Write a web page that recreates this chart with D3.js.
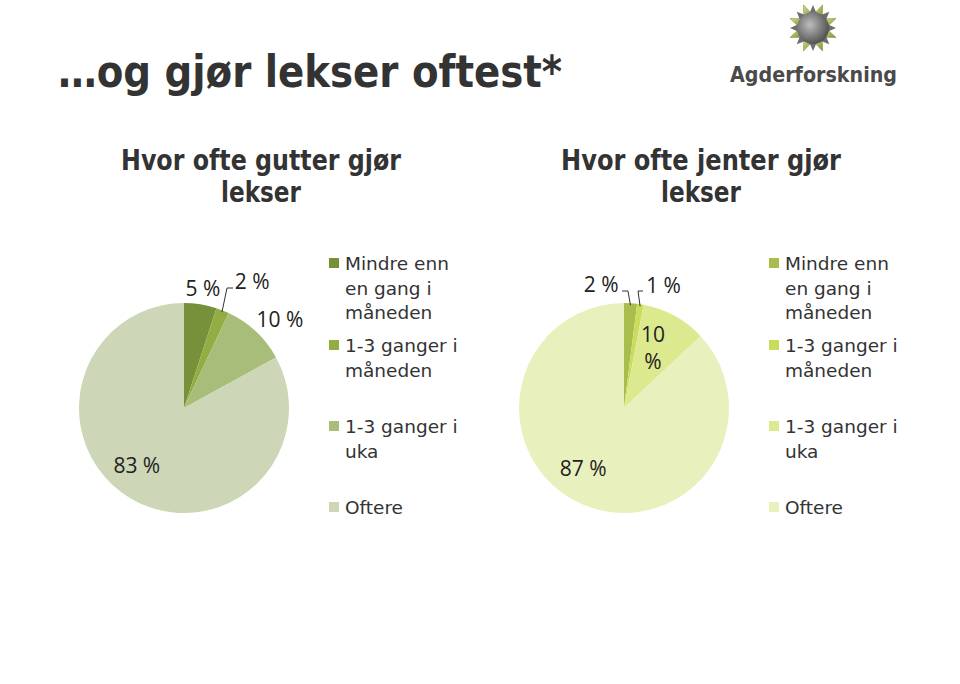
<!DOCTYPE html>
<html>
<head>
<meta charset="utf-8">
<script src="https://cdn.jsdelivr.net/npm/d3@7"></script>
<style>
  html, body { margin: 0; padding: 0; background: #fff; }
  svg { display: block; }
</style>
</head>
<body>
<script>
// ---- data ----
const categories = ["Mindre enn en gang i måneden", "1-3 ganger i måneden", "1-3 ganger i uka", "Oftere"];
const legendLines = [["Mindre enn", "en gang i", "måneden"], ["1-3 ganger i", "måneden"], ["1-3 ganger i", "uka"], ["Oftere"]];
const guttValues = [5, 2, 10, 83];
const jenteValues = [2, 1, 10, 87];
const guttColors = ["#77913b", "#93ad45", "#a9bd7a", "#cdd7b7"];
const jenteColors = ["#a8bd4c", "#c9dc5c", "#dde98f", "#e8f0bd"];
const mainTitle = "…og gjør lekser oftest*";
const guttTitle = ["Hvor ofte gutter gjør", "lekser"];
const jenteTitle = ["Hvor ofte jenter gjør", "lekser"];

const W = 960, H = 684;
const svg = d3.select("body").append("svg").attr("width", W).attr("height", H);

// main title
svg.append("text").attr("x", 58).attr("y", 87)
  .attr("font-family", "DejaVu Sans Condensed, DejaVu Sans").attr("font-weight", "bold")
  .attr("font-size", 45).attr("fill", "#333").attr("textLength", 504).attr("lengthAdjust", "spacingAndGlyphs")
  .text(mainTitle);

// logo
const logo = svg.append("g").attr("transform", "translate(813,28)");
const defs = svg.append("defs");
const rg = defs.append("radialGradient").attr("id", "lg").attr("cx", "40%").attr("cy", "40%").attr("r", "60%");
rg.append("stop").attr("offset", "0%").attr("stop-color", "#bdbdbd");
rg.append("stop").attr("offset", "100%").attr("stop-color", "#555");
const gg = defs.append("linearGradient").attr("id", "gg").attr("x1", "0").attr("y1", "0").attr("x2", "1").attr("y2", "1");
gg.append("stop").attr("offset", "0%").attr("stop-color", "#d2df8c");
gg.append("stop").attr("offset", "100%").attr("stop-color", "#7d9130");
const Rl = 25;
for (let k = 0; k < 8; k++) {
  const a0 = (k * 45 + 4) * Math.PI / 180, a1 = (k * 45 + 41) * Math.PI / 180, am = (a0 + a1) / 2;
  const p = [[Math.sin(a0) * 14, -Math.cos(a0) * 14], [Math.sin(am) * Rl, -Math.cos(am) * Rl], [Math.sin(a1) * 14, -Math.cos(a1) * 14]];
  logo.append("path").attr("d", d3.line()(p) + "Z").attr("fill", "url(#gg)").attr("stroke", "#6f8a2a").attr("stroke-width", 0.5);
}
for (let k = 0; k < 8; k++) {
  const a = k * 45 * Math.PI / 180, w = 0.3;
  const p = [[Math.sin(a - w) * 14, -Math.cos(a - w) * 14], [Math.sin(a) * (Rl - 2), -Math.cos(a) * (Rl - 2)], [Math.sin(a + w) * 14, -Math.cos(a + w) * 14]];
  logo.append("path").attr("d", d3.line()(p) + "Z").attr("fill", "#6e6e6e");
}
logo.append("circle").attr("r", 16).attr("fill", "url(#lg)");
svg.append("text").attr("x", 730).attr("y", 82)
  .attr("font-family", "DejaVu Sans").attr("font-weight", "bold").attr("font-size", 21)
  .attr("fill", "#4a4a4a").attr("textLength", 167).attr("lengthAdjust", "spacingAndGlyphs")
  .text("Agderforskning");

function drawPanel(cx, title, values, colors, labelSpecs, leaders) {
  // subtitle
  const titleLen = [280, 80];
  title.forEach((t, i) => {
    svg.append("text").attr("x", cx + 77).attr("y", 170 + i * 32).attr("text-anchor", "middle")
      .attr("font-family", "DejaVu Sans Condensed, DejaVu Sans").attr("font-weight", "bold")
      .attr("font-size", 29).attr("fill", "#333")
      .attr("textLength", titleLen[i]).attr("lengthAdjust", "spacingAndGlyphs").text(t);
  });
  const cy = 408, R = 105;
  const pie = d3.pie().sort(null).value(d => d);
  const arcs = pie(values);
  const arc = d3.arc().innerRadius(0).outerRadius(R);
  const g = svg.append("g").attr("transform", `translate(${cx},${cy})`);
  g.selectAll("path").data(arcs).join("path").attr("d", arc).attr("fill", (d, i) => colors[i]);

  // labels
  arcs.forEach((d, i) => {
    const s = labelSpecs[i];
    const a = (s.angle !== undefined ? s.angle : (d.startAngle + d.endAngle) / 2 * 180 / Math.PI) * Math.PI / 180;
    const x = Math.sin(a) * s.r, y = -Math.cos(a) * s.r;
    const lines = s.lines || [values[i] + " %"];
    lines.forEach((ln, j) => {
      g.append("text").attr("x", x).attr("y", y + 7 + (j - (lines.length - 1) / 2) * 27)
        .attr("text-anchor", "middle").attr("font-family", "Open Sans, Noto Sans").attr("font-size", 21)
        .attr("fill", "#222").text(ln);
    });
  });
  // leader lines
  leaders.forEach(L => {
    const d = arcs[L.i];
    const a = (d.startAngle + d.endAngle) / 2;
    const px = Math.sin(a) * (R - 2), py = -Math.cos(a) * (R - 2);
    g.append("path").attr("d", d3.line()([[px, py], [L.elbowX, L.y], [L.endX, L.y]]))
      .attr("fill", "none").attr("stroke", "#333").attr("stroke-width", 1);
  });

  // legend
  const lx = cx + 145;
  const legendY = [270, 352, 433, 514];
  legendLines.forEach((lines, i) => {
    svg.append("rect").attr("x", lx).attr("y", legendY[i] - 12).attr("width", 10).attr("height", 10)
      .attr("fill", colors[i]);
    lines.forEach((t, j) => {
      svg.append("text").attr("x", lx + 16).attr("y", legendY[i] + j * 24.5)
        .attr("font-family", "DejaVu Sans").attr("font-size", 18.5).attr("fill", "#333").text(t);
    });
  });
}

drawPanel(184, guttTitle, guttValues, guttColors,
  [{ r: 121 }, { r: 143, angle: 28.5 }, { r: 130, angle: 47.5 }, { r: 75, angle: 219 }],
  [{ i: 1, elbowX: 43, endX: 49, y: -120 }]);
drawPanel(624, jenteTitle, jenteValues, jenteColors,
  [{ r: 125, angle: -10.5 }, { r: 128, angle: 18 }, { r: 66, angle: 26, lines: ["10", "%"] }, { r: 73, angle: 214 }],
  [{ i: 0, elbowX: 4, endX: -2, y: -117 }, { i: 1, elbowX: 14, endX: 19, y: -117 }]);
</script>
</body>
</html>
